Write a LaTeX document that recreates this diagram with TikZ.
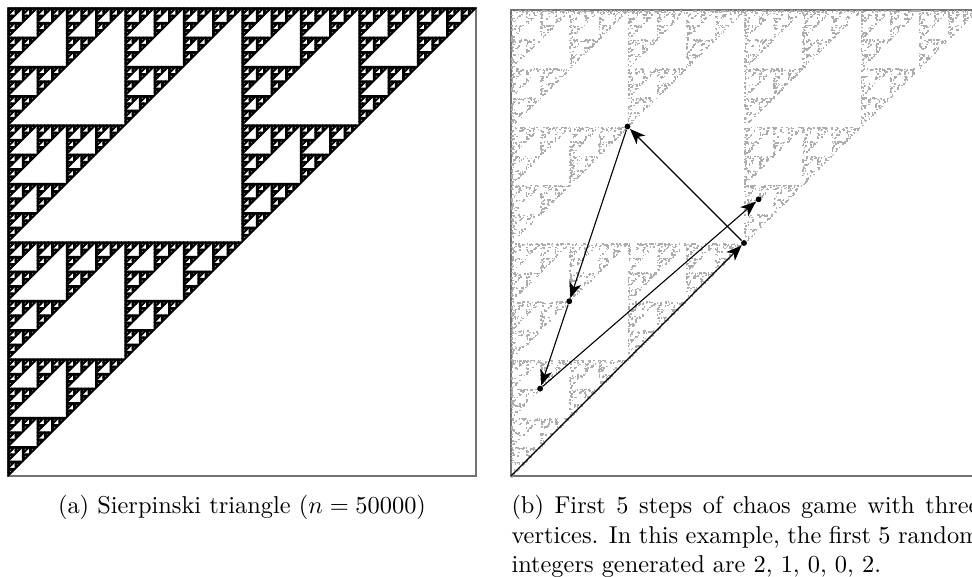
\documentclass[tikz,border=0pt]{standalone}
\usetikzlibrary{arrows.meta}

\tikzset{
  sierp/.style={fill=black, draw=black, line width=0.6pt, line join=round},
  speck/.style={fill=black!32},
  frame/.style={draw=black!55, line width=0.5pt},
  chaospt/.style={circle, fill=black, inner sep=0pt, minimum size=2.4pt},
  chaosarr/.style={-{Stealth[length=6.4pt, width=5pt, inset=1.8pt]}, line width=0.45pt},
}

% depth, x, y, side: fills the triangles of one Sierpinski level
\newcommand{\sierpfill}[4]{%
  \ifnum#1=0
    \fill[sierp] (#2,#3) -- ++(#4,0) -- ++(-#4,#4) -- cycle;
  \else
    \begingroup
      \pgfmathsetmacro\sierph{#4/2}%
      \pgfmathsetmacro\sierpx{#2+\sierph}%
      \pgfmathsetmacro\sierpy{#3+\sierph}%
      \edef\sierpnext{%
        \noexpand\sierpfill{\the\numexpr#1-1\relax}{#2}{#3}{\sierph}%
        \noexpand\sierpfill{\the\numexpr#1-1\relax}{\sierpx}{#3}{\sierph}%
        \noexpand\sierpfill{\the\numexpr#1-1\relax}{#2}{\sierpy}{\sierph}}%
    \expandafter\endgroup\sierpnext
  \fi}

\begin{document}
\begin{tikzpicture}[x=0.41pt, y=-0.41pt]
  \useasboundingbox (0,0) rectangle (972,576);
  \clip (0,0) rectangle (972,576);

  % Sierpinski triangle (left)
  \draw[frame] (8,8) rectangle (476,476);
  \sierpfill{7}{8}{8}{468}
  \node[anchor=base] (capa) at (242,513) {(a) Sierpinski triangle ($n = 50000$)};

  % Chaos game (right)
  \draw[frame] (511,10) rectangle (977,476);
  \pgfmathsetseed{3}
  \xdef\cgx{511}\xdef\cgy{476}
  \foreach \i in {1,...,7000} {
    \pgfmathrandominteger{\cgv}{0}{2}
    \ifcase\cgv\relax
      \def\vtx{511}\def\vty{476}\or
      \def\vtx{511}\def\vty{10}\or
      \def\vtx{977}\def\vty{10}\fi
    \pgfmathsetmacro\cgnx{(\cgx+\vtx)/2}
    \pgfmathsetmacro\cgny{(\cgy+\vty)/2}
    \xdef\cgx{\cgnx}\xdef\cgy{\cgny}
    \fill[speck] (\cgx,\cgy) rectangle ++(1.5,1.5);
  }

  % first 5 steps: 2, 1, 0, 0, 2
  \coordinate (p0) at (511,476);
  \node[chaospt] (p1) at (744,243) {};
  \node[chaospt] (p2) at (627.5,126.5) {};
  \node[chaospt] (p3) at (569.25,301.25) {};
  \node[chaospt] (p4) at (540.125,388.625) {};
  \node[chaospt] (p5) at (758.5625,199.3125) {};
  \foreach \a/\b in {p0/p1, p1/p2, p2/p3, p3/p4, p4/p5} {
    \draw[chaosarr] (\a) -- (\b);
  }

  \node[anchor=north west, text width=191.9pt, align=justify, inner sep=0pt] (capb) at (511,495)
    {(b) First 5 steps of chaos game with three vertices. In this example, the first 5 random integers generated are 2, 1, 0, 0, 2.};
\end{tikzpicture}
\end{document}
